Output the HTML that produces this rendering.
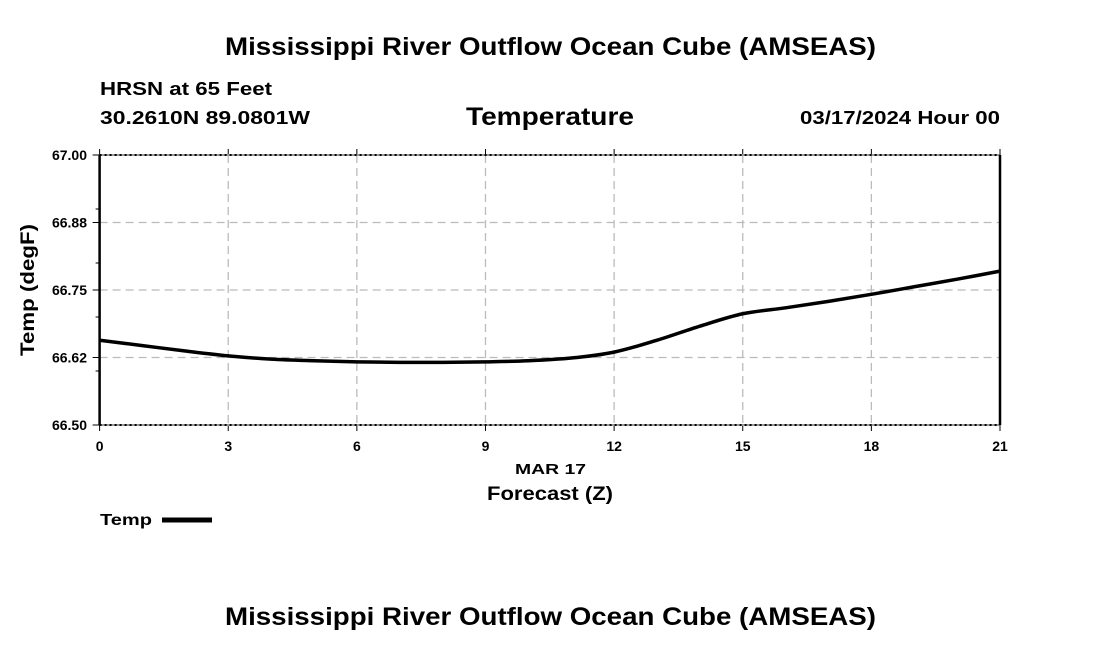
<!DOCTYPE html>
<html><head><meta charset="utf-8"><style>
html,body{margin:0;padding:0;background:#fff;width:1100px;height:650px;overflow:hidden}
svg text{font-family:"Liberation Sans",Arial,sans-serif;font-weight:bold;fill:#000}
</style></head><body>
<svg id="chart" width="1100" height="650">
<text x="225" y="55" font-size="25" textLength="651" lengthAdjust="spacingAndGlyphs">Mississippi River Outflow Ocean Cube (AMSEAS)</text>
<text x="100" y="95" font-size="18" textLength="172" lengthAdjust="spacingAndGlyphs">HRSN at 65 Feet</text>
<text x="100" y="124" font-size="18" textLength="210" lengthAdjust="spacingAndGlyphs">30.2610N  89.0801W</text>
<text x="466" y="125" font-size="25" textLength="168" lengthAdjust="spacingAndGlyphs">Temperature</text>
<text x="800" y="124" font-size="18" textLength="200" lengthAdjust="spacingAndGlyphs">03/17/2024 Hour 00</text>
<g id="grid"></g>
<g id="axes"></g>
<g id="series"></g>
<text x="515" y="474" font-size="15" textLength="71" lengthAdjust="spacingAndGlyphs">MAR 17</text>
<text x="487" y="500" font-size="19" textLength="126" lengthAdjust="spacingAndGlyphs">Forecast (Z)</text>
<text x="0" y="0" font-size="19" text-anchor="middle" textLength="132" lengthAdjust="spacingAndGlyphs" transform="translate(34,290) rotate(-90)">Temp (degF)</text>
<g>
<text x="100" y="525" font-size="16" textLength="52" lengthAdjust="spacingAndGlyphs">Temp</text>
<line x1="162" y1="520" x2="212" y2="520" stroke="#000" stroke-width="5"/>
</g>
<text x="225" y="625" font-size="25" textLength="651" lengthAdjust="spacingAndGlyphs">Mississippi River Outflow Ocean Cube (AMSEAS)</text>
</svg>
<script>
const hours=[0,1,2,3,4,5,6,7,8,9,10,11,12,13,14,15,16,17,18,19,20,21];
const temps=[66.657,66.647,66.637,66.628,66.622,66.619,66.617,66.616,66.616,66.617,66.619,66.624,66.635,66.657,66.683,66.706,66.717,66.729,66.742,66.756,66.770,66.785];
const xTicks=[0,3,6,9,12,15,18,21];
const yTicks=[66.5,66.625,66.75,66.875,67.0];
const yTickLabels=["66.50","66.62","66.75","66.88","67.00"];
const yMinor=[66.6,66.7,66.8,66.9];
const X0=99.6,X1=1000,Y0=425,Y1=155,XMIN=0,XMAX=21,YMIN=66.5,YMAX=67.0;
const NS="http://www.w3.org/2000/svg";
function sx(v){return X0+(v-XMIN)/(XMAX-XMIN)*(X1-X0);}
function sy(v){return Y0-(v-YMIN)/(YMAX-YMIN)*(Y0-Y1);}
function mk(tag,attrs,parent){const e=document.createElementNS(NS,tag);for(const k in attrs)e.setAttribute(k,attrs[k]);parent.appendChild(e);return e;}
const grid=document.getElementById('grid'),axes=document.getElementById('axes'),series=document.getElementById('series');
xTicks.forEach(t=>{
  if(t>XMIN&&t<XMAX){const g=mk('line',{x1:sx(t),x2:sx(t),y1:Y1,y2:Y0,stroke:'#bbb','stroke-width':1.3,'stroke-dasharray':'8,5'},grid);
  
  }
  const tk=mk('line',{x1:sx(t),x2:sx(t),y1:Y0,y2:Y0+6,stroke:'#000','stroke-width':1},axes);
  
  
  const tk2=mk('line',{x1:sx(t),x2:sx(t),y1:Y1,y2:Y1-6,stroke:'#000','stroke-width':1},axes);
  
  
  const lb=mk('text',{x:sx(t),y:Y0+26,'font-size':14,'text-anchor':'middle'},axes);lb.textContent=t;
  
  
});
yTicks.forEach((t,i)=>{
  if(t>YMIN&&t<YMAX){const g=mk('line',{x1:X0,x2:X1,y1:sy(t),y2:sy(t),stroke:'#bbb','stroke-width':1.3,'stroke-dasharray':'8,5'},grid);
  
  }
  const tk=mk('line',{x1:X0-7,x2:X0,y1:sy(t),y2:sy(t),stroke:'#000','stroke-width':1},axes);
  
  
  const lb=mk('text',{x:87,y:sy(t)+5,'font-size':14,'text-anchor':'end'},axes);lb.textContent=yTickLabels[i];
  
  
});
yMinor.forEach(t=>{
  const tk=mk('line',{x1:X0-4,x2:X0,y1:sy(t),y2:sy(t),stroke:'#000','stroke-width':1},axes);
  
  
});
[Y1,Y0].forEach(y=>{
  const b=mk('line',{x1:X0,x2:X1,y1:y,y2:y,stroke:'#999','stroke-width':2},axes);
  
  
  const d=mk('line',{x1:X0,x2:X1,y1:y,y2:y,stroke:'#000','stroke-width':2,'stroke-dasharray':'2,3'},axes);
  
  
});
[X0,X1].forEach(x=>{
  const a=mk('line',{x1:x,x2:x,y1:Y1,y2:Y0,stroke:'#000','stroke-width':2.5},axes);
  
  
});
const pts=hours.map((h,i)=>[sx(h),sy(temps[i])]);
let d='M'+pts[0][0]+','+pts[0][1];
for(let i=0;i<pts.length-1;i++){
  const p0=pts[Math.max(0,i-1)],p1=pts[i],p2=pts[i+1],p3=pts[Math.min(pts.length-1,i+2)];
  const c1=[p1[0]+(p2[0]-p0[0])/6,p1[1]+(p2[1]-p0[1])/6],c2=[p2[0]-(p3[0]-p1[0])/6,p2[1]-(p3[1]-p1[1])/6];
  d+=` C${c1[0]},${c1[1]} ${c2[0]},${c2[1]} ${p2[0]},${p2[1]}`;
}
const line=mk('path',{d:d,fill:'none',stroke:'#000','stroke-width':3.5,'stroke-linejoin':'round'},series);


</script>
</body></html>
